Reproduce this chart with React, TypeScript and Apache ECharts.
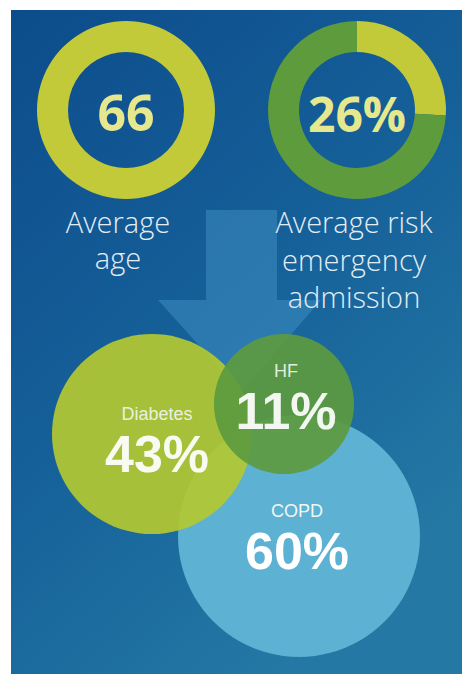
import React, { useEffect, useRef } from "react";
import * as echarts from "echarts";

// ---- data ----
const donutNames = ["Average age", "Average risk emergency admission"];
const donutCaptions = ["Average\nage", "Average risk\nemergency\nadmission"];
const avgAge = 66;
const riskShare = [26, 74]; // % at risk, remainder
const conditionNames = ["COPD", "Diabetes", "HF"];
const conditionShares = [60, 43, 11];

// ---- layout / style ----
const W = 462;
const H = 674;
const donutCenters = [
  [126, 110],
  [357, 110],
];
const donutRadius = [58, 89];
const circleCenters = [
  [299, 536],
  [152, 434],
  [284, 404],
];
const circleRadii = [121, 100, 70];
const circleColors = ["#5DB1D2", "#B3C732", "#5C9A3F"];
const circleOpacity = [1, 0.93, 0.92];
const labelOffsets = [
  [-2, 4],
  [5, 9],
  [2, -4],
];
const LIME = "#C3CA3A";
const DARKGREEN = "#5E9B3C";
const NUMCOLOR = "#E6E88E";
const CAPTIONCOLOR = "#E3EDF4";
const LABEL_FONT = "Liberation Sans, Arial, sans-serif";

export default function App() {
  const ref = useRef<HTMLDivElement>(null);
  useEffect(() => {
    if (!ref.current) return;
    const chart = echarts.init(ref.current, null, { renderer: "svg" });

    const scatterSeries = conditionNames.map((name, i) => ({
      type: "scatter",
      name,
      z: 3 + i,
      silent: true,
      symbol: "circle",
      symbolSize: circleRadii[i] * 2,
      itemStyle: { color: circleColors[i], opacity: circleOpacity[i] },
      label: {
        show: true,
        position: "inside",
        offset: labelOffsets[i],
        formatter: `{n|${name}}\n{v|${conditionShares[i]}%}`,
        rich: {
          n: {
            fontFamily: LABEL_FONT,
            fontSize: 18,
            color: "#F2F6F0",
            lineHeight: 22,
            align: "center",
          },
          v: {
            fontFamily: LABEL_FONT,
            fontWeight: "bold",
            fontSize: 52,
            color: "#FFFFFF",
            lineHeight: 58,
            align: "center",
          },
        },
      },
      data: [[circleCenters[i][0], circleCenters[i][1], conditionShares[i]]],
    }));

    chart.setOption({
      animation: false,
      grid: { left: 0, right: 0, top: 0, bottom: 0 },
      xAxis: { type: "value", min: 0, max: W, show: false },
      yAxis: { type: "value", min: 0, max: H, inverse: true, show: false },
      graphic: [
        {
          type: "rect",
          z: -10,
          silent: true,
          shape: { x: 11, y: 10, width: W - 11, height: H - 10 },
          style: {
            fill: new echarts.graphic.LinearGradient(0, 0, 0.6, 1, [
              { offset: 0, color: "#0C4C8B" },
              { offset: 0.55, color: "#16619A" },
              { offset: 1, color: "#2479A4" },
            ]),
          },
        },
        {
          type: "polygon",
          z: -5,
          silent: true,
          shape: {
            points: [
              [206, 210],
              [277, 210],
              [277, 300],
              [321, 300],
              [241, 392],
              [158, 300],
              [206, 300],
            ],
          },
          style: { fill: "rgba(80,160,210,0.38)" },
        },
        {
          type: "text",
          z: 50,
          silent: true,
          x: donutCenters[0][0],
          y: donutCenters[0][1] + 2,
          style: {
            text: String(avgAge),
            fill: NUMCOLOR,
            fontFamily: "Open Sans",
            fontWeight: "bold",
            fontSize: 50,
            textAlign: "center",
            textVerticalAlign: "middle",
          },
        },
        {
          type: "text",
          z: 50,
          silent: true,
          x: donutCenters[1][0],
          y: donutCenters[1][1] + 3,
          style: {
            text: `${riskShare[0]}%`,
            fill: NUMCOLOR,
            fontFamily: "Open Sans",
            fontWeight: "bold",
            fontSize: 48,
            textAlign: "center",
            textVerticalAlign: "middle",
          },
        },
        {
          type: "text",
          z: 50,
          silent: true,
          x: 118,
          y: 203,
          style: {
            text: donutCaptions[0],
            fill: CAPTIONCOLOR,
            fontFamily: "Open Sans",
            fontWeight: 300,
            fontSize: 29,
            lineHeight: 36,
            textAlign: "center",
            textVerticalAlign: "top",
          },
        },
        {
          type: "text",
          z: 50,
          silent: true,
          x: 354,
          y: 203,
          style: {
            text: donutCaptions[1],
            fill: CAPTIONCOLOR,
            fontFamily: "Open Sans",
            fontWeight: 300,
            fontSize: 29,
            lineHeight: 37.5,
            textAlign: "center",
            textVerticalAlign: "top",
          },
        },
      ],
      series: [
        {
          type: "pie",
          name: donutNames[0],
          silent: true,
          z: 2,
          center: donutCenters[0],
          radius: donutRadius,
          label: { show: false },
          labelLine: { show: false },
          itemStyle: { borderWidth: 0 },
          data: [{ value: avgAge, name: donutNames[0], itemStyle: { color: LIME } }],
        },
        {
          type: "pie",
          name: donutNames[1],
          silent: true,
          z: 2,
          center: donutCenters[1],
          radius: donutRadius,
          startAngle: 90,
          clockwise: true,
          label: { show: false },
          labelLine: { show: false },
          itemStyle: { borderWidth: 0 },
          data: [
            { value: riskShare[0], name: "risk", itemStyle: { color: LIME } },
            { value: riskShare[1], name: "rest", itemStyle: { color: DARKGREEN } },
          ],
        },
        ...scatterSeries,
      ],
    });
    return () => chart.dispose();
  }, []);
  return (
    <div
      ref={ref}
      style={{ position: "absolute", left: 0, top: 0, width: W, height: H, background: "#fff" }}
    />
  );
}
